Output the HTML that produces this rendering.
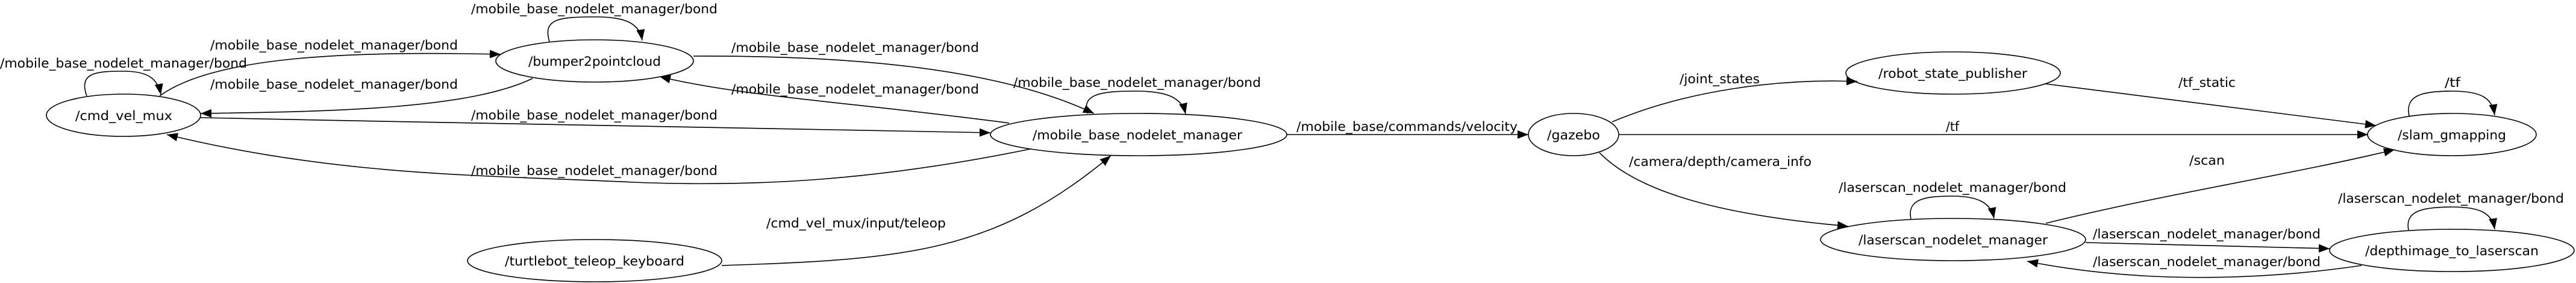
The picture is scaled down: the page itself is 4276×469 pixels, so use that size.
<!DOCTYPE html>
<html><head><meta charset="utf-8"><style>html,body{margin:0;padding:0;background:#fff}svg{display:block}</style></head>
<body>
<svg xmlns="http://www.w3.org/2000/svg" width="4276" height="469" viewBox="0 0 4276 469">
<defs>
<marker id="a" markerUnits="userSpaceOnUse" markerWidth="20" markerHeight="14" refX="18" refY="7" orient="auto">
<path d="M0,0 L18,7 L0,14 Z" fill="#000"/>
</marker>
</defs>
<g fill="none" stroke="#000" stroke-width="1.6">
<!-- nodes -->
<ellipse cx="205" cy="191" rx="128" ry="35"/>
<ellipse cx="987" cy="101" rx="164" ry="35"/>
<ellipse cx="987" cy="432" rx="211" ry="35"/>
<ellipse cx="1890" cy="223" rx="246" ry="35"/>
<ellipse cx="2612" cy="223" rx="75" ry="35"/>
<ellipse cx="3242" cy="121" rx="178" ry="35"/>
<ellipse cx="3242" cy="397" rx="220" ry="35"/>
<ellipse cx="4070" cy="223" rx="140" ry="35"/>
<ellipse cx="4070" cy="415" rx="203" ry="35"/>
</g>
<g fill="none" stroke="#000" stroke-width="1.6" marker-end="url(#a)">
<!-- self loops -->
<path d="M144,159 C130,120 160,118 205,118 C245,118 262,130 267,157"/>
<path d="M912,69 C900,30 930,28 990,28 C1040,28 1062,40 1066,67"/>
<path d="M1805,188 C1795,155 1830,151 1885,151 C1940,151 1962,163 1968,189"/>
<path d="M3172,363 C3165,330 3195,325 3240,325 C3285,325 3305,337 3310,362"/>
<path d="M3999,192 C3992,158 4020,151 4070,151 C4120,151 4137,163 4141,191"/>
<path d="M3998,381 C3992,350 4020,343 4070,343 C4120,343 4137,355 4141,380"/>
<!-- edges -->
<path d="M265,159 C360,90 600,85 831,90"/>
<path d="M884,130 C780,180 560,185 333,188"/>
<path d="M333,195 C800,205 1300,212 1644,220"/>
<path d="M1710,247 C1450,300 1250,310 1050,302 C800,290 560,292 277,223"/>
<path d="M1151,93 C1400,92 1650,110 1816,188"/>
<path d="M1675,204 C1420,170 1230,160 1095,127"/>
<path d="M1198,440 C1500,430 1650,420 1844,258"/>
<path d="M2136,223 L2537,223"/>
<path d="M2676,202 C2800,150 2950,130 3083,135"/>
<path d="M2688,223 L3931,223"/>
<path d="M2655,253 C2730,330 2900,360 3068,375"/>
<path d="M3396,139 L3944,208"/>
<path d="M3396,370 C3600,320 3800,290 3975,248"/>
<path d="M3462,402 L3867,412"/>
<path d="M3920,440 C3750,465 3550,470 3365,433"/>
</g>
<g font-family="DejaVu Sans, 'Liberation Sans', sans-serif" font-size="21" fill="#000" lengthAdjust="spacingAndGlyphs">
<text x="125" y="199" textLength="161" lengthAdjust="spacingAndGlyphs">/cmd_vel_mux</text>
<text x="877" y="109" textLength="220" lengthAdjust="spacingAndGlyphs">/bumper2pointcloud</text>
<text x="838" y="440" textLength="298" lengthAdjust="spacingAndGlyphs">/turtlebot_teleop_keyboard</text>
<text x="1714" y="231" textLength="348" lengthAdjust="spacingAndGlyphs">/mobile_base_nodelet_manager</text>
<text x="2568" y="231" textLength="88" lengthAdjust="spacingAndGlyphs">/gazebo</text>
<text x="3118" y="129" textLength="247" lengthAdjust="spacingAndGlyphs">/robot_state_publisher</text>
<text x="3085" y="405" textLength="314" lengthAdjust="spacingAndGlyphs">/laserscan_nodelet_manager</text>
<text x="3980" y="231" textLength="180" lengthAdjust="spacingAndGlyphs">/slam_gmapping</text>
<text x="3926" y="423" textLength="288" lengthAdjust="spacingAndGlyphs">/depthimage_to_laserscan</text>

<text x="0" y="112" textLength="410" lengthAdjust="spacingAndGlyphs">/mobile_base_nodelet_manager/bond</text>
<text x="782" y="22" textLength="409" lengthAdjust="spacingAndGlyphs">/mobile_base_nodelet_manager/bond</text>
<text x="349" y="82" textLength="411" lengthAdjust="spacingAndGlyphs">/mobile_base_nodelet_manager/bond</text>
<text x="349" y="147" textLength="411" lengthAdjust="spacingAndGlyphs">/mobile_base_nodelet_manager/bond</text>
<text x="782" y="198" textLength="409" lengthAdjust="spacingAndGlyphs">/mobile_base_nodelet_manager/bond</text>
<text x="782" y="290" textLength="409" lengthAdjust="spacingAndGlyphs">/mobile_base_nodelet_manager/bond</text>
<text x="1214" y="86" textLength="411" lengthAdjust="spacingAndGlyphs">/mobile_base_nodelet_manager/bond</text>
<text x="1214" y="155" textLength="411" lengthAdjust="spacingAndGlyphs">/mobile_base_nodelet_manager/bond</text>
<text x="1682" y="144" textLength="411" lengthAdjust="spacingAndGlyphs">/mobile_base_nodelet_manager/bond</text>
<text x="1272" y="377" textLength="298" lengthAdjust="spacingAndGlyphs">/cmd_vel_mux/input/teleop</text>
<text x="2152" y="217" textLength="367" lengthAdjust="spacingAndGlyphs">/mobile_base/commands/velocity</text>
<text x="2788" y="138" textLength="133" lengthAdjust="spacingAndGlyphs">/joint_states</text>
<text x="3230" y="217" textLength="22" lengthAdjust="spacingAndGlyphs">/tf</text>
<text x="2704" y="275" textLength="303" lengthAdjust="spacingAndGlyphs">/camera/depth/camera_info</text>
<text x="3052" y="318" textLength="378" lengthAdjust="spacingAndGlyphs">/laserscan_nodelet_manager/bond</text>
<text x="3616" y="144" textLength="95" lengthAdjust="spacingAndGlyphs">/tf_static</text>
<text x="4058" y="144" textLength="26" lengthAdjust="spacingAndGlyphs">/tf</text>
<text x="3634" y="273" textLength="59" lengthAdjust="spacingAndGlyphs">/scan</text>
<text x="3881" y="336" textLength="375" lengthAdjust="spacingAndGlyphs">/laserscan_nodelet_manager/bond</text>
<text x="3474" y="395" textLength="378" lengthAdjust="spacingAndGlyphs">/laserscan_nodelet_manager/bond</text>
<text x="3474" y="441" textLength="378" lengthAdjust="spacingAndGlyphs">/laserscan_nodelet_manager/bond</text>
</g>
</svg>
</body></html>
